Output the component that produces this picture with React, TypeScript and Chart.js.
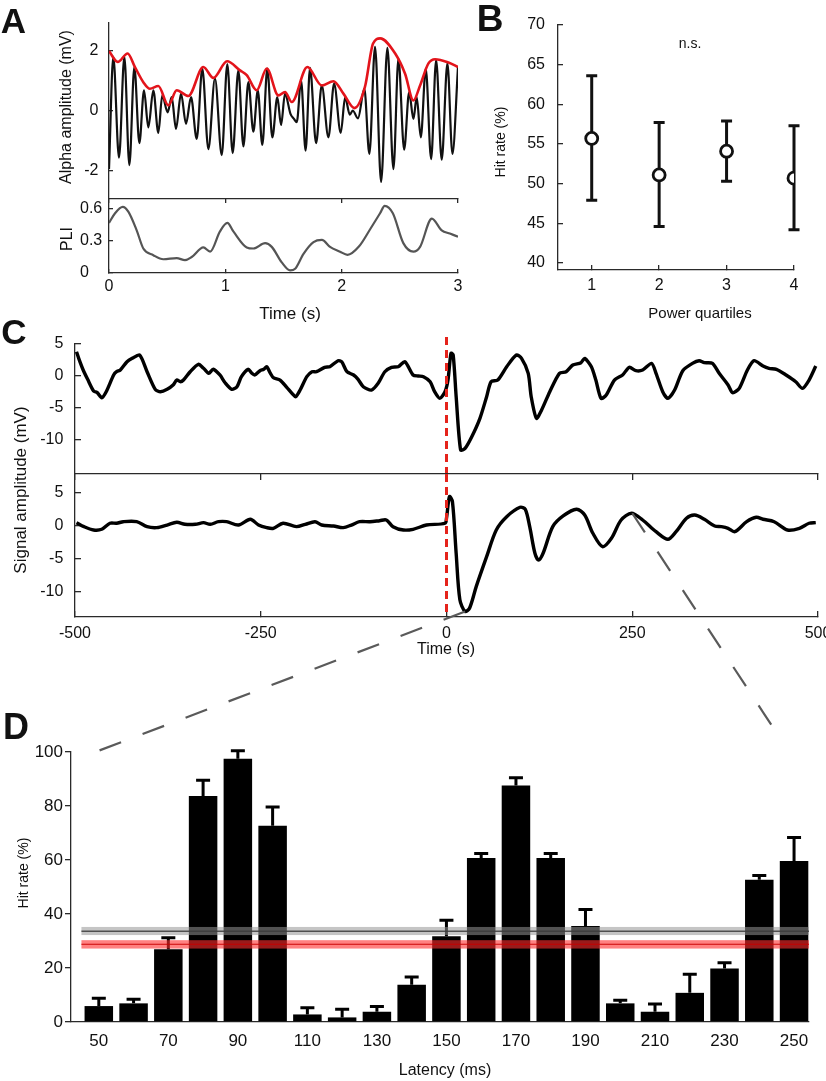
import React, { useEffect, useRef } from "react";
import { Chart, registerables } from "chart.js";
Chart.register(...registerables);

const FONT = "'Liberation Sans', Arial, Helvetica, sans-serif";

// ---------------- Panel A : alpha oscillation, envelope, PLI ----------------
const alphaTime = [
  0, 0.037, 0.086, 0.132, 0.175, 0.218, 0.261, 0.301, 0.338, 0.381,
  0.424, 0.458, 0.504, 0.539, 0.576, 0.619, 0.662, 0.705, 0.754, 0.802,
  0.854, 0.911, 0.969, 1.017, 1.063, 1.112, 1.155, 1.198, 1.241, 1.279,
  1.318, 1.361, 1.404, 1.447, 1.479, 1.513, 1.56, 1.59, 1.614, 1.651,
  1.69, 1.728, 1.78, 1.829, 1.886, 1.935, 1.992, 2.03, 2.07, 2.095,
  2.14, 2.195, 2.238, 2.287, 2.339, 2.393, 2.445, 2.488, 2.537, 2.58,
  2.617, 2.645, 2.68, 2.723, 2.769, 2.812, 2.86, 2.909, 2.952, 3.0,
];
const alphaAmp = [
  -1.94, 1.78, -1.56, 1.78, -1.81, 1.44, -1.08, 0.67, -0.56, 0.67,
  -0.74, 0.5, -0.06, 0.44, -0.61, 0.56, -0.44, 0.44, -0.94, 1.39,
  -1.28, 1.06, -1.48, 1.54, -1.41, 1.33, -1.19, 0.94, -0.7, 0.67,
  -1.14, 1.39, -0.89, 0.44, -0.48, 0.56, -0.11, -0.28, -0.39, 1.0,
  -1.33, 1.41, -1.08, 0.83, -0.89, 0.89, -0.74, 0.44, -0.14, 0.0,
  -0.26, 0.72, -1.44, 2.11, -2.37, 2.08, -1.94, 1.72, -1.3, 0.61,
  -0.28, 0.44, -0.89, 1.39, -1.61, 1.67, -1.63, 1.56, -1.44, 1.44,
];
const envTime = [
  0, 0.075, 0.16, 0.223, 0.295, 0.352, 0.424, 0.51, 0.582, 0.682,
  0.811, 0.897, 1.015, 1.126, 1.184, 1.27, 1.356, 1.456, 1.513, 1.571,
  1.705, 1.829, 1.929, 2.015, 2.11, 2.2, 2.27, 2.33, 2.46, 2.545,
  2.617, 2.674, 2.746, 2.803, 2.918, 3.0,
];
const envAmp = [
  1.97, 1.61, 1.89, 1.44, 0.94, 0.72, 0.81, 0.17, 0.67, 0.48,
  1.44, 1.08, 1.63, 1.33, 1.17, 0.67, 1.39, 0.5, 0.61, 0.28,
  1.44, 0.83, 0.97, 0.56, 0.08, 0.78, 2.22, 2.39, 1.89, 1.22,
  0.33, 0.83, 1.56, 1.7, 1.59, 1.44,
];
const pliTime = [
  0, 0.052, 0.118, 0.166, 0.238, 0.295, 0.381, 0.467, 0.582, 0.653,
  0.711, 0.811, 0.869, 0.954, 1.017, 1.069, 1.184, 1.241, 1.342, 1.399,
  1.485, 1.557, 1.6, 1.672, 1.758, 1.83, 1.9, 1.986, 2.05, 2.15,
  2.25, 2.33, 2.37, 2.44, 2.53, 2.617, 2.674, 2.775, 2.86, 2.93, 3.0,
];
const pliValue = [
  0.47, 0.56, 0.62, 0.575, 0.4, 0.23, 0.167, 0.129, 0.14, 0.12,
  0.15, 0.24, 0.2, 0.39, 0.47, 0.39, 0.24, 0.23, 0.28, 0.245,
  0.1, 0.025, 0.04, 0.18, 0.29, 0.31, 0.245, 0.2, 0.17, 0.25,
  0.42, 0.56, 0.63, 0.56, 0.28, 0.2, 0.245, 0.51, 0.4, 0.37, 0.34,
];
const alphaTicks = [-2, 0, 2];
const pliTicks = [0, 0.3, 0.6];
const timeTicksA = [0, 1, 2, 3];

// ---------------- Panel B : hit rate by power quartile ----------------
const quartiles = [1, 2, 3, 4];
const hitMean = [55.7, 51.1, 54.1, 50.7];
const hitLow = [47.9, 44.6, 50.3, 44.2];
const hitHigh = [63.6, 57.7, 57.9, 57.3];
const hitTicksB = [40, 45, 50, 55, 60, 65, 70];

// ---------------- Panel C : single trial and average ----------------
const rawTime = [
  -498, -495, -489, -483, -475, -470, -464, -458, -448, -444,
  -439, -430, -423, -413, -403, -392, -385, -376, -368, -363,
  -358, -354, -345, -334, -327, -320, -314, -305, -298, -289,
  -282, -276, -267, -262, -258, -251, -246, -242, -237, -233,
  -224, -215, -208, -203, -197, -188, -181, -175, -164, -157,
  -146, -141, -134, -125, -119, -112, -101, -92, -83, -74,
  -65, -56, -45, -38, -31, -22, -16, -9, -2, 2,
  6, 9, 13, 19, 25, 34, 45, 54, 60, 69,
  81, 94, 101, 110, 114, 121, 128, 139, 152, 161,
  170, 181, 186, 195, 201, 208, 215, 226, 237, 246,
  255, 264, 276, 282, 291, 298, 307, 318, 331, 340,
  347, 358, 367, 379, 385, 394, 405, 414, 426, 434,
  444, 457, 470, 479, 488, 497,
];
const rawAmp = [
  3.8, 2.76, 0.94, -0.52, -2.34, -2.6, -3.39, -2.45, 0.16, 0.67,
  0.94, 2.23, 2.76, 3.28, 0.67, -2.08, -2.45, -2.08, -1.41, -0.63,
  -0.89, -0.63, 0.67, 1.83, 1.2, 0.42, 1.05, 0.16, -1.05, -2.08,
  -1.67, -0.1, 1.05, 0.42, 0.16, 0.83, 1.05, 1.45, 0.42, -0.26,
  -0.63, -1.77, -2.7, -3.23, -2.19, -0.1, 0.67, 0.67, 1.36, 1.45,
  2.39, 2.23, 0.67, 0.16, -0.52, -1.67, -2.19, -1.14, 0.67, 1.36,
  1.45, 2.23, 0.16, 0, -0.1, -0.89, -2.45, -3.49, -2.45, -0.63,
  3.55, 3.28, -3.23, -11.56, -11.3, -9.48, -6.6, -3.23, -0.89, -0.63,
  1.45, 3.28, 2.76, 0.42, -3.23, -6.6, -5.31, -2.45, 0.42, 0.67,
  1.72, 2.08, 2.76, 1.45, -0.63, -3.49, -2.97, -0.63, 0.16, 1.36,
  0.83, 0.94, 1.98, 0.42, -2.45, -3.49, -2.19, 0.83, 1.98, 2.39,
  2.08, 1.98, 0.42, -1.41, -2.6, -1.93, 0.94, 2.39, 1.56, 1.2,
  1.05, 0.16, -0.89, -1.93, -0.63, 1.56,
];
const avgTime = [
  -498, -488, -475, -464, -453, -444, -435, -417, -403, -390,
  -376, -363, -352, -338, -327, -318, -307, -296, -280, -264,
  -253, -242, -233, -220, -202, -190, -177, -168, -152, -139,
  -128, -117, -103, -90, -81, -72, -58, -45, -27, -2,
  0, 4, 8, 13, 18, 25, 31, 40, 54, 67,
  81, 99, 106, 112, 119, 124, 130, 143, 157, 175,
  186, 197, 210, 222, 235, 249, 264, 282, 298, 309,
  323, 334, 347, 361, 370, 379, 388, 404, 417, 426,
  441, 459, 475, 488, 497,
];
const avgAmp = [
  0.46, -0.15, -0.66, -0.55, 0.37, 0.37, 0.61, 0.61, -0.15, -0.3,
  0.1, 0.52, 0.21, 0.21, 0.46, 0.21, 0.61, 0.61, 0.1, 0.98,
  0.1, -0.3, -0.4, 0.37, -0.15, 0.21, 0.61, 0.1, -0.05, -0.3,
  0.1, 0.61, 0.61, 0.76, 0.87, -0.15, -0.66, -0.55, 0.1, 0.37,
  1.13, 4.43, 3.66, -4.21, -11.3, -13.1, -12.6, -9.3, -4.73, -0.66,
  1.37, 2.81, 2.5, -0.15, -4.21, -5.24, -4.21, -0.15, 1.48, 2.5,
  1.63, -1.16, -3.2, -1.92, 0.87, 1.89, 0.87, -0.92, -2.08, -0.92,
  1.13, 1.63, 0.98, -0.05, -0.15, -0.4, -0.92, 0.61, 1.28, 0.98,
  0.61, -0.66, -0.4, 0.37, 0.46,
];
const signalTicks = [-10, -5, 0, 5];
const timeTicksC = [-500, -250, 0, 250, 500];
const stimulusTime = 0;

// ---------------- Panel D : hit rate by latency ----------------
const latency = [50, 60, 70, 80, 90, 100, 110, 120, 130, 140, 150, 160, 170, 180, 190, 200, 210, 220, 230, 240, 250];
const hitRate = [5.9, 6.9, 26.9, 83.7, 97.5, 72.7, 2.8, 1.7, 3.8, 13.8, 31.8, 60.7, 87.6, 60.7, 35.6, 6.9, 3.8, 10.8, 19.8, 52.7, 59.6];
const hitSem = [2.9, 1.5, 4.3, 5.8, 3.0, 6.9, 2.5, 3.0, 1.9, 2.9, 5.9, 1.7, 2.9, 1.7, 6.1, 1.2, 2.9, 6.9, 2.1, 1.6, 8.7];
const latencyTicks = [50, 70, 90, 110, 130, 150, 170, 190, 210, 230, 250];
const hitTicksD = [0, 20, 40, 60, 80, 100];
const chanceBand = [32.2, 33.6, 35.2];
const baselineBand = [27.2, 28.8, 30.3];
const bandStartLatency = 45;

// zoom connectors: panel C point (time, amplitude) -> panel D point (latency, hit rate)
const connectFrom = [[25, -13.1], [250, 1.9]];
const connectTo = [[49, 100], [244, 109]];

// ---------------- layout ----------------
type Box = { x: number; y: number; w: number; h: number; yW: number; xH: number; pad: { top: number; right: number; bottom: number; left: number } };
const BOX_A1: Box = { x: 60, y: 13, w: 410, h: 185, yW: 49, xH: 0, pad: { top: 10, right: 12, bottom: 0, left: 0 } };
const BOX_A2: Box = { x: 60, y: 189, w: 410, h: 114, yW: 29, xH: 30, pad: { top: 10, right: 12, bottom: 0, left: 20 } };
const BOX_B: Box = { x: 500, y: 15, w: 310, h: 285, yW: 58, xH: 30, pad: { top: 10, right: 16, bottom: 0, left: 0 } };
const BOX_C1: Box = { x: 30, y: 330, w: 796, h: 144, yW: 45, xH: 0, pad: { top: 14, right: 8, bottom: 0, left: 0 } };
const BOX_C2: Box = { x: 30, y: 464, w: 796, h: 183, yW: 45, xH: 30, pad: { top: 10, right: 8, bottom: 0, left: 0 } };
const BOX_D: Box = { x: 20, y: 740, w: 806, h: 312, yW: 51, xH: 30, pad: { top: 12, right: 17, bottom: 0, left: 0 } };

const C_X: [number, number] = [-500, 500];
const C2_Y: [number, number] = [-13.94, 7.89];
const D_X: [number, number] = [42, 254.3];
const D_Y: [number, number] = [0, 100];

function areaOf(b: Box) {
  return { left: b.x + b.pad.left + b.yW, top: b.y + b.pad.top, right: b.x + b.w - b.pad.right, bottom: b.y + b.h - b.pad.bottom - b.xH };
}
const lin = (v: number, d0: number, d1: number, p0: number, p1: number) => p0 + ((v - d0) / (d1 - d0)) * (p1 - p0);

const zip = (xs: number[], ys: number[]) => {
  const n = Math.min(xs.length, ys.length);
  const out: { x: number; y: number }[] = [];
  for (let i = 0; i < n; i++) out.push({ x: xs[i], y: ys[i] });
  return out;
};

const fixSize = (size: number, horizontal: boolean) => (s: any) => {
  if (horizontal) s.height = size;
  else s.width = size;
  s.paddingLeft = 0; s.paddingRight = 0; s.paddingTop = 0; s.paddingBottom = 0;
};
const setTicks = (vals: number[]) => (s: any) => {
  s.ticks = vals.map((v) => ({ value: v }));
};

const AXIS_COLOR = "#2a2a2a";

function axis(o: {
  pos: "left" | "bottom" | "top";
  min: number; max: number; ticks: number[]; size: number;
  tl: number; pad?: number; font?: number; labels?: boolean; crossAlign?: string; drawTicks?: boolean;
}) {
  const horizontal = o.pos !== "left";
  return {
    type: "linear",
    position: o.pos,
    min: o.min,
    max: o.max,
    offset: false,
    afterBuildTicks: setTicks(o.ticks),
    afterFit: fixSize(o.size, horizontal),
    border: { display: true, color: AXIS_COLOR, width: 1.3 },
    grid: {
      display: true,
      offset: false,
      drawOnChartArea: false,
      drawTicks: o.drawTicks !== false,
      tickLength: o.tl,
      color: AXIS_COLOR,
      lineWidth: 1.3,
    },
    ticks: {
      display: o.labels !== false,
      padding: o.pad ?? 0,
      autoSkip: false,
      maxRotation: 0,
      minRotation: 0,
      crossAlign: o.crossAlign ?? "near",
      color: "#111",
      font: { family: FONT, size: o.font ?? 16 },
      callback: (v: any) => String(v),
    },
  };
}

function baseOptions(b: Box) {
  return {
    responsive: false,
    maintainAspectRatio: false,
    animation: false,
    devicePixelRatio: 1,
    events: [],
    layout: { padding: b.pad },
    plugins: { legend: { display: false }, tooltip: { enabled: false }, title: { display: false } },
  };
}

// ---------------- plugins ----------------
const stimulusLine = (extendTop: number) => ({
  id: "stimulusLine",
  afterDatasetsDraw(chart: any) {
    const { ctx, chartArea, scales } = chart;
    const px = scales.x.getPixelForValue(stimulusTime);
    ctx.save();
    ctx.strokeStyle = "#e5231b";
    ctx.lineWidth = 3;
    ctx.setLineDash([8, 5]);
    ctx.beginPath();
    ctx.moveTo(px, chartArea.top - extendTop);
    ctx.lineTo(px, chartArea.bottom);
    ctx.stroke();
    ctx.restore();
  },
});

const quartileErrors = {
  id: "quartileErrors",
  beforeDatasetsDraw(chart: any) {
    const { ctx, scales } = chart;
    ctx.save();
    ctx.strokeStyle = "#111";
    ctx.lineWidth = 3;
    quartiles.forEach((q, i) => {
      const px = scales.x.getPixelForValue(q);
      const yl = scales.y.getPixelForValue(hitLow[i]);
      const yh = scales.y.getPixelForValue(hitHigh[i]);
      ctx.beginPath();
      ctx.moveTo(px, yl); ctx.lineTo(px, yh);
      ctx.moveTo(px - 5.5, yl); ctx.lineTo(px + 5.5, yl);
      ctx.moveTo(px - 5.5, yh); ctx.lineTo(px + 5.5, yh);
      ctx.stroke();
    });
    ctx.restore();
  },
};

const latencyDecor = {
  id: "latencyDecor",
  afterDatasetsDraw(chart: any) {
    const { ctx, chartArea, scales } = chart;
    const { x, y } = scales;
    ctx.save();
    ctx.strokeStyle = "#000";
    ctx.lineWidth = 3;
    latency.forEach((l, i) => {
      const px = x.getPixelForValue(l);
      const y0 = y.getPixelForValue(hitRate[i]);
      const y1 = y.getPixelForValue(hitRate[i] + hitSem[i]);
      ctx.beginPath();
      ctx.moveTo(px, y0); ctx.lineTo(px, y1);
      ctx.moveTo(px - 7, y1); ctx.lineTo(px + 7, y1);
      ctx.stroke();
    });
    const xl = x.getPixelForValue(bandStartLatency);
    const xr = chartArea.right;
    const band = (vals: number[], fill: string, line: string, lw: number) => {
      const yTop = y.getPixelForValue(vals[2]);
      const yBot = y.getPixelForValue(vals[0]);
      ctx.fillStyle = fill;
      ctx.fillRect(xl, yTop, xr - xl, yBot - yTop);
      ctx.strokeStyle = line;
      ctx.lineWidth = lw;
      ctx.beginPath();
      const ym = y.getPixelForValue(vals[1]);
      ctx.moveTo(xl, ym); ctx.lineTo(xr, ym);
      ctx.stroke();
    };
    band(chanceBand, "rgba(150,150,150,0.55)", "rgba(60,60,60,0.85)", 1.5);
    band(baselineBand, "rgba(255,45,45,0.6)", "rgba(200,0,0,0.95)", 1.2);
    ctx.restore();
  },
};

// ---------------- chart configs ----------------
function configA1() {
  const b = BOX_A1;
  return {
    type: "line",
    data: {
      datasets: [
        { data: zip(envTime, envAmp), borderColor: "#e3141b", borderWidth: 2.6, pointRadius: 0, cubicInterpolationMode: "monotone" },
        { data: zip(alphaTime, alphaAmp), borderColor: "#111", borderWidth: 2.2, pointRadius: 0, cubicInterpolationMode: "monotone" },
      ],
    },
    options: {
      ...baseOptions(b),
      scales: {
        x: { type: "linear", display: false, min: 0, max: 3 },
        y: axis({ pos: "left", min: -2.9, max: 2.9, ticks: alphaTicks, size: b.yW, tl: -4, pad: 14.5, font: 16 }),
      },
    },
  };
}

function configA2() {
  const b = BOX_A2;
  return {
    type: "line",
    data: {
      datasets: [
        { data: zip(pliTime, pliValue), borderColor: "#555", borderWidth: 2.2, pointRadius: 0, cubicInterpolationMode: "monotone" },
      ],
    },
    options: {
      ...baseOptions(b),
      scales: {
        x: axis({ pos: "bottom", min: 0, max: 3, ticks: timeTicksA, size: b.xH, tl: -4, pad: 8, font: 16 }),
        x2: axis({ pos: "top", min: 0, max: 3, ticks: timeTicksA, size: 0, tl: -4, labels: false }),
        y: axis({ pos: "left", min: 0, max: 0.694, ticks: pliTicks, size: b.yW, tl: -4, pad: 6, font: 16, crossAlign: "far" }),
      },
    },
  };
}

function configB() {
  const b = BOX_B;
  return {
    type: "line",
    data: {
      datasets: [
        {
          data: zip(quartiles, hitMean),
          showLine: false,
          pointRadius: 6,
          pointBorderWidth: 2.8,
          pointBorderColor: "#111",
          pointBackgroundColor: "#fff",
        },
      ],
    },
    options: {
      ...baseOptions(b),
      scales: {
        x: axis({ pos: "bottom", min: 0.5, max: 4, ticks: quartiles, size: b.xH, tl: -5, pad: 11, font: 16 }),
        y: axis({ pos: "left", min: 39.12, max: 70, ticks: hitTicksB, size: b.yW, tl: -5, pad: 18, font: 16 }),
      },
    },
    plugins: [quartileErrors],
  };
}

function configC1() {
  const b = BOX_C1;
  return {
    type: "line",
    data: {
      datasets: [
        { data: zip(rawTime, rawAmp), borderColor: "#000", borderWidth: 3.4, pointRadius: 0, tension: 0.25, borderJoinStyle: "round" },
      ],
    },
    options: {
      ...baseOptions(b),
      scales: {
        x: { type: "linear", display: false, min: C_X[0], max: C_X[1] },
        y: axis({ pos: "left", min: -15.3, max: 5, ticks: signalTicks, size: b.yW, tl: -6, pad: 17.7, font: 16 }),
      },
    },
    plugins: [stimulusLine(7)],
  };
}

function configC2() {
  const b = BOX_C2;
  return {
    type: "line",
    data: {
      datasets: [
        { data: zip(avgTime, avgAmp), borderColor: "#000", borderWidth: 3.4, pointRadius: 0, tension: 0.3, borderJoinStyle: "round" },
      ],
    },
    options: {
      ...baseOptions(b),
      scales: {
        x: axis({ pos: "bottom", min: C_X[0], max: C_X[1], ticks: timeTicksC, size: b.xH, tl: -6, pad: 13.4, font: 16 }),
        x2: axis({ pos: "top", min: C_X[0], max: C_X[1], ticks: timeTicksC, size: 0, tl: -6, labels: false }),
        y: axis({ pos: "left", min: C2_Y[0], max: C2_Y[1], ticks: signalTicks, size: b.yW, tl: -6, pad: 17.7, font: 16 }),
      },
    },
    plugins: [stimulusLine(0)],
  };
}

function configD() {
  const b = BOX_D;
  return {
    type: "bar",
    data: {
      datasets: [
        {
          data: zip(latency, hitRate),
          backgroundColor: "#000",
          borderWidth: 0,
          barPercentage: 0.82,
          categoryPercentage: 1,
        },
      ],
    },
    options: {
      ...baseOptions(b),
      scales: {
        x: axis({ pos: "bottom", min: D_X[0], max: D_X[1], ticks: latencyTicks, size: b.xH, tl: 0, pad: 9.5, font: 17, drawTicks: false }),
        y: axis({ pos: "left", min: D_Y[0], max: D_Y[1], ticks: hitTicksD, size: b.yW, tl: 6, pad: 2, font: 17 }),
      },
    },
    plugins: [latencyDecor],
  };
}

// ---------------- components ----------------
function ChartCanvas({ box, build }: { box: Box; build: () => any }) {
  const ref = useRef<HTMLCanvasElement | null>(null);
  useEffect(() => {
    if (!ref.current) return;
    const chart = new Chart(ref.current, build());
    return () => chart.destroy();
  }, []);
  return (
    <canvas
      ref={ref}
      width={box.w}
      height={box.h}
      style={{ position: "absolute", left: box.x, top: box.y, width: box.w, height: box.h }}
    />
  );
}

function Label({ x, y, text, size, rotate, bold }: { x: number; y: number; text: string; size: number; rotate?: boolean; bold?: boolean }) {
  return (
    <div
      style={{
        position: "absolute",
        left: x,
        top: y,
        transform: `translate(-50%, -50%)${rotate ? " rotate(-90deg)" : ""}`,
        fontFamily: FONT,
        fontSize: size,
        fontWeight: bold ? 700 : 400,
        lineHeight: 1,
        whiteSpace: "nowrap",
        color: "#111",
      }}
    >
      {text}
    </div>
  );
}

function Connectors() {
  const c2 = areaOf(BOX_C2);
  const d = areaOf(BOX_D);
  const lines = connectFrom.map((f, i) => {
    const t = connectTo[i];
    return {
      x1: lin(f[0], C_X[0], C_X[1], c2.left, c2.right),
      y1: lin(f[1], C2_Y[1], C2_Y[0], c2.top, c2.bottom),
      x2: lin(t[0], D_X[0], D_X[1], d.left, d.right),
      y2: lin(t[1], D_Y[1], D_Y[0], d.top, d.bottom),
    };
  });
  return (
    <svg width={826} height={1081} style={{ position: "absolute", left: 0, top: 0, pointerEvents: "none" }}>
      {lines.map((l, i) => (
        <line key={i} x1={l.x1} y1={l.y1} x2={l.x2} y2={l.y2} stroke="#5a5a5a" strokeWidth={2.2} strokeDasharray="23 23" />
      ))}
    </svg>
  );
}

export default function App() {
  return (
    <div style={{ position: "absolute", left: 0, top: 0, width: 826, height: 1081, background: "#fff", overflow: "hidden" }}>
      <ChartCanvas box={BOX_A1} build={configA1} />
      <ChartCanvas box={BOX_A2} build={configA2} />
      <ChartCanvas box={BOX_B} build={configB} />
      <ChartCanvas box={BOX_C1} build={configC1} />
      <ChartCanvas box={BOX_C2} build={configC2} />
      <ChartCanvas box={BOX_D} build={configD} />
      <Connectors />

      <Label x={13.5} y={19.5} text="A" size={35} bold />
      <Label x={490} y={17.5} text="B" size={37} bold />
      <Label x={14} y={331} text="C" size={35} bold />
      <Label x={16} y={727} text="D" size={36} bold />

      <Label x={66} y={107} text="Alpha amplitude (mV)" size={16} rotate />
      <Label x={67} y={239} text="PLI" size={16} rotate />
      <Label x={290} y={313} text="Time (s)" size={17} />

      <Label x={500} y={142} text="Hit rate (%)" size={14} rotate />
      <Label x={700} y={312} text="Power quartiles" size={15} />
      <Label x={690} y={43} text="n.s." size={14} />

      <Label x={20} y={490} text="Signal amplitude (mV)" size={17} rotate />
      <Label x={446} y={649} text="Time (s)" size={16} />

      <Label x={23} y={873} text="Hit rate (%)" size={14} rotate />
      <Label x={445} y={1070} text="Latency (ms)" size={16} />
    </div>
  );
}
